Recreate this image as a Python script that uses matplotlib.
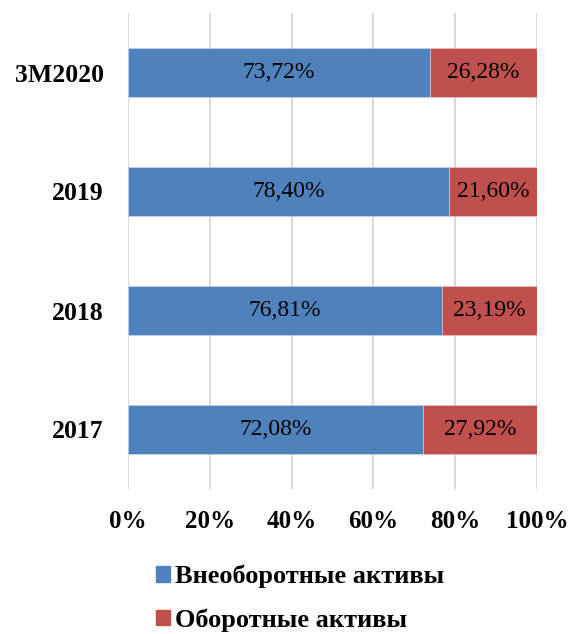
import matplotlib
matplotlib.use('Agg')
import matplotlib.pyplot as plt
from matplotlib.patches import Patch
import numpy as np

categories = ['2017', '2018', '2019', '3M2020']
noncurrent = [72.08, 76.81, 78.40, 73.72]
current = [27.92, 23.19, 21.60, 26.28]
labels = ['Внеоборотные активы', 'Оборотные активы']
colors = ['#4F81BD', '#C0504D']

plt.rcParams['font.family'] = ['Liberation Serif', 'DejaVu Serif']

fig = plt.figure(figsize=(5.73, 6.34), dpi=100)
ax = fig.add_axes([128/573, 1-489/634, (537-128)/573, (489-13)/634])

y = np.arange(len(categories))
h = 0.41
ax.barh(y, noncurrent, height=h, color=colors[0], edgecolor='#c8d6ea', linewidth=0.5, zorder=3)
ax.barh(y, current, left=noncurrent, height=h, color=colors[1], edgecolor='#e6c4c3', linewidth=0.5, zorder=3)

for i in range(len(categories)):
    ax.text(noncurrent[i]/2, y[i], ('%.2f%%' % noncurrent[i]).replace('.', ','),
            ha='center', va='center', fontsize=17, zorder=4)
    ax.text(noncurrent[i] + current[i]/2, y[i], ('%.2f%%' % current[i]).replace('.', ','),
            ha='center', va='center', fontsize=17, zorder=4)

ax.set_xlim(0, 100)
ax.set_ylim(-0.5, 3.5)
ax.set_xticks(np.arange(0, 101, 20))
ax.set_xticklabels(['%d%%' % v for v in range(0, 101, 20)], fontsize=18, fontweight='bold')
ax.set_yticks(y)
ax.set_yticklabels(categories, fontsize=18.5, fontweight='bold')
ax.tick_params(axis='x', length=0, pad=15)
ax.tick_params(axis='y', length=0, pad=17.5)
ax.grid(axis='x', color='#D9D9D9', linewidth=1.5, zorder=0)
for s in ax.spines.values():
    s.set_visible(False)

handles = [Patch(color=c) for c in colors]
fig.legend(handles, labels, loc='upper left', bbox_to_anchor=(156/573, 1-565/634),
           frameon=False, prop={'size': 19, 'weight': 'bold'}, borderpad=0, borderaxespad=0,
           handlelength=0.53, handleheight=0.53, handletextpad=0.2, labelspacing=0.75)

fig.savefig('out.png', dpi=100)
